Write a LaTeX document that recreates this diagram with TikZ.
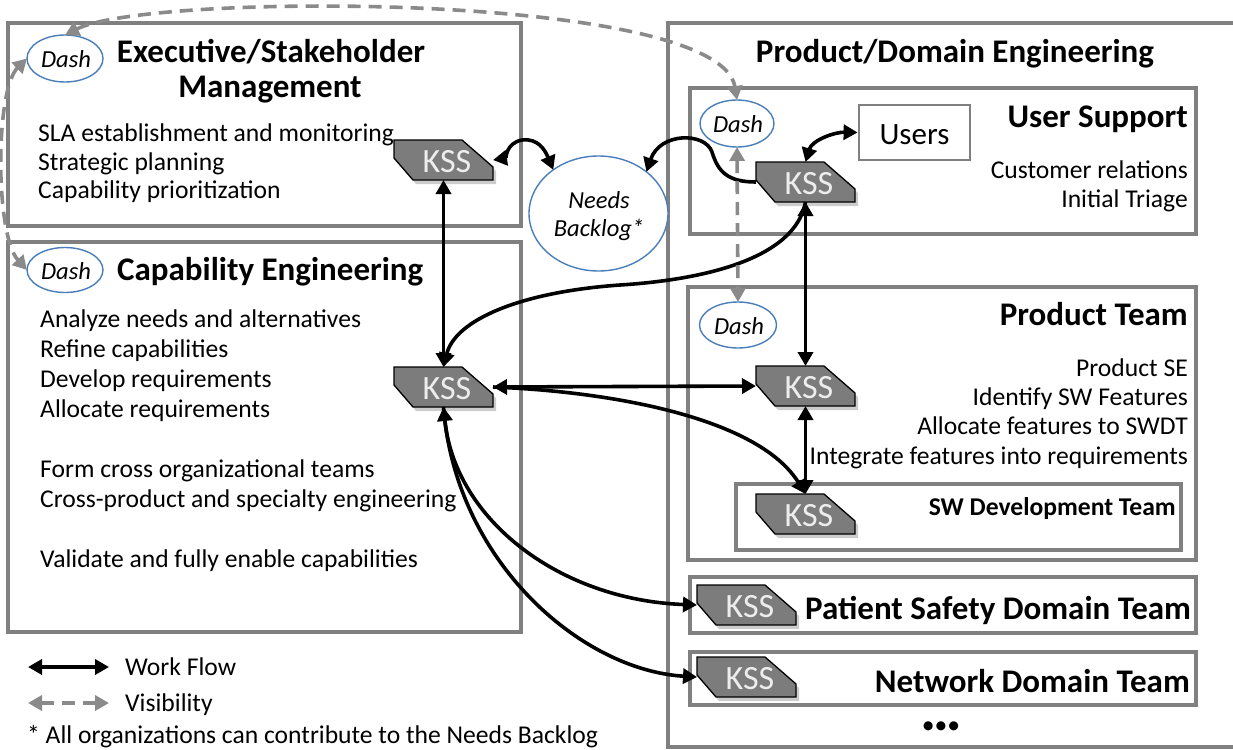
\documentclass[tikz,border=0pt]{standalone}
\usepackage{fontspec}
\setmainfont{Carlito}
\usetikzlibrary{arrows.meta,shapes.geometric}

\definecolor{boxgray}{RGB}{128,128,128}
\definecolor{kssgray}{RGB}{124,124,124}
\definecolor{dashblue}{RGB}{74,126,187}
\definecolor{visgray}{RGB}{138,138,138}

% KSS tag: name, left x, top y
\newcommand\kssshape[3]{%
  \fill[black,opacity=0.2] (#2+3,#3+4) -- ++(68,0) -- ++(31,27) -- ++(0,13) -- ++(-80,0) -- ++(-19,-22) -- cycle;
  \filldraw[fill=kssgray,draw=black,line width=1.3pt] (#2,#3) -- ++(68,0) -- ++(31,27) -- ++(0,13) -- ++(-80,0) -- ++(-19,-22) -- cycle;
  \node[kssnode] (#1) at (#2+49.5,#3+20) {};
  \node[ksstext] (#1-label) at (#2+53,#3+22) {KSS};
}

\begin{document}
\begin{tikzpicture}[x=1pt,y=-1pt,
  >={Triangle[length=14pt,width=15pt]},
  frame/.style={draw=boxgray, line width=3.2pt},
  flow/.style={draw=black, line width=3.6pt},
  vis/.style={draw=visgray, line width=3.6pt, dash pattern=on 13pt off 8pt},
  kssnode/.style={rectangle, minimum width=99pt, minimum height=40pt, inner sep=0pt, outer sep=0pt},
  ksstext/.style={font=\fontsize{34}{34}\selectfont, text=white!93!black, inner sep=0pt},
  dashell/.style={ellipse, draw=dashblue, line width=1.4pt, fill=white, inner sep=0pt, outer sep=0pt},
  dashtext/.style={font=\itshape\fontsize{24.5}{28}\selectfont, inner sep=0pt, align=center},
  bigtitle/.style={font=\bfseries\fontsize{33}{36}\selectfont, inner sep=0pt},
  smalltitle/.style={font=\bfseries\fontsize{25.6}{30}\selectfont, inner sep=0pt},
  bodytext/.style={font=\fontsize{25.6}{30}\selectfont, inner sep=0pt},
]
\useasboundingbox (0,0) rectangle (1233,749);

% ---------- frames ----------
\draw[frame] (8,23) rectangle (521,226);
\draw[frame] (8,242) rectangle (521,632);
\draw[frame] (668,23) rectangle (1260,747);
\draw[frame] (690,88) rectangle (1196,234);
\draw[frame] (688,287) rectangle (1196,560);
\draw[frame] (736,484) rectangle (1181,550);
\draw[frame] (690,577) rectangle (1196,633);
\draw[frame] (690,652) rectangle (1196,705);

% ---------- executive / stakeholder management ----------
\node[bigtitle,anchor=base] (execT1) at (271,63) {Executive/Stakeholder};
\node[bigtitle,anchor=base] (execT2) at (270,98) {Management};
\node[bodytext,anchor=base west] (execL1) at (38,142) {SLA establishment and monitoring};
\node[bodytext,anchor=base west] (execL2) at (38,170) {Strategic planning};
\node[bodytext,anchor=base west] (execL3) at (38,198) {Capability prioritization};

% ---------- capability engineering ----------
\node[bigtitle,anchor=base west] (capT) at (117,280) {Capability Engineering};
\node[bodytext,anchor=base west] (capL1) at (40,327) {Analyze needs and alternatives};
\node[bodytext,anchor=base west] (capL2) at (40,357) {Refine capabilities};
\node[bodytext,anchor=base west] (capL3) at (40,387) {Develop requirements};
\node[bodytext,anchor=base west] (capL4) at (40,417) {Allocate requirements};
\node[bodytext,anchor=base west] (capL5) at (40,477) {Form cross organizational teams};
\node[bodytext,anchor=base west] (capL6) at (40,507) {Cross-product and specialty engineering};
\node[bodytext,anchor=base west] (capL7) at (40,567) {Validate and fully enable capabilities};

% ---------- product / domain engineering ----------
\node[bigtitle,anchor=base] (pdT) at (955,63) {Product/Domain Engineering};

\node[bigtitle,anchor=base east] (usT) at (1188,128) {User Support};
\node[bodytext,anchor=base east] (usL1) at (1188,178) {Customer relations};
\node[bodytext,anchor=base east] (usL2) at (1188,207) {Initial Triage};
\node[draw=boxgray,line width=2.8pt,minimum width=111pt,minimum height=55pt,inner sep=0pt] (users) at (914.5,132.5) {};
\node[font=\fontsize{31}{31}\selectfont,inner sep=0pt,anchor=base] (usersT) at (914.5,144) {Users};

\node[bigtitle,anchor=base east] (ptT) at (1188,325) {Product Team};
\node[bodytext,anchor=base east] (ptL1) at (1188,376) {Product SE};
\node[bodytext,anchor=base east] (ptL2) at (1188,405) {Identify SW Features};
\node[bodytext,anchor=base east] (ptL3) at (1188,434) {Allocate features to SWDT};
\node[bodytext,anchor=base east] (ptL4) at (1188,464) {Integrate features into requirements};

\node[smalltitle,anchor=base east] (swT) at (1176,515) {SW Development Team};
\node[bigtitle,anchor=base west] (patT) at (805,619) {Patient Safety Domain Team};
\node[bigtitle,anchor=base east] (netT) at (1190,692) {Network Domain Team};
\node[bodytext,anchor=center] (more) at (941,728) {•••};

% ---------- dashboards and backlog ----------
\node[dashell,minimum width=76pt,minimum height=47pt] (dashEx) at (65,58.5) {};
\node[dashtext] (dashExT) at (66,59) {Dash};
\node[dashell,minimum width=76pt,minimum height=45pt] (dashCap) at (65,270) {};
\node[dashtext] (dashCapT) at (66,271) {Dash};
\node[dashell,minimum width=74pt,minimum height=47pt] (dashUs) at (737,123.5) {};
\node[dashtext] (dashUsT) at (738,124) {Dash};
\node[dashell,minimum width=77pt,minimum height=46pt] (dashPr) at (738,325) {};
\node[dashtext] (dashPrT) at (739,326) {Dash};

\node[dashell,minimum width=139pt,minimum height=115pt] (needs) at (598.5,213.5) {};
\node[dashtext] (needsT) at (599,216) {Needs\\Backlog*};

% ---------- KSS tags ----------
\kssshape{exk}{394}{140}
\kssshape{capk}{394}{367}
\kssshape{usk}{756}{162}
\kssshape{prk}{756}{366}
\kssshape{swk}{756}{494}
\kssshape{patk}{697}{585}
\kssshape{netk}{697}{657}

% ---------- work flow ----------
\draw[flow,<->] (exk.south) -- (capk.north);
\draw[flow,<->] (capk.east) -- (prk.west);
\draw[flow,<->] (usk.south) -- (prk.north);
\draw[flow,<->] (prk.south) -- (swk.north);
\draw[flow,<->] (exk.east) .. controls (506,158) and (506,143) .. (522,140)
  .. controls (538,138) and (545,150) .. (needs.136);
\draw[flow,->] (usk.west) .. controls (728,182) and (718,172) .. (712,152)
  .. controls (705,132) and (660,132) .. (needs.41);
\draw[flow,<->] (usk.north) .. controls (812,140) and (835,132) .. (users.west);
\draw[flow,->] (usk.south) .. controls (795,260) and (700,280) .. (620,285)
  .. controls (520,292) and (455,320) .. (capk.north);
\draw[flow,->] (capk.east) .. controls (620,392) and (760,420) .. (swk.north);
\draw[flow,<->] (capk.south) .. controls (455,520) and (560,600) .. (patk.west);
\draw[flow,->] (capk.south) .. controls (455,560) and (580,670) .. (netk.west);

% ---------- visibility ----------
\draw[vis,<->] (dashEx.north) .. controls (150,-8) and (720,-8) .. (dashUs.north);
\draw[vis,<->] (dashEx.west) .. controls (-5,90) and (-5,235) .. (dashCap.west);
\draw[vis,<->] (dashUs.south) -- (dashPr.north);

% ---------- legend ----------
\coordinate (wfA) at (28,667);
\coordinate (wfB) at (109,667);
\draw[flow,<->] (wfA) -- (wfB);
\node[bodytext,anchor=base west] (wfT) at (125,675) {Work Flow};
\coordinate (visA) at (28,703);
\coordinate (visB) at (109,703);
\draw[vis,<->] (visA) -- (visB);
\node[bodytext,anchor=base west] (visT) at (125,711) {Visibility};
\node[bodytext,anchor=base west] (note) at (27,743) {* All organizations can contribute to the Needs Backlog};
\end{tikzpicture}
\end{document}
